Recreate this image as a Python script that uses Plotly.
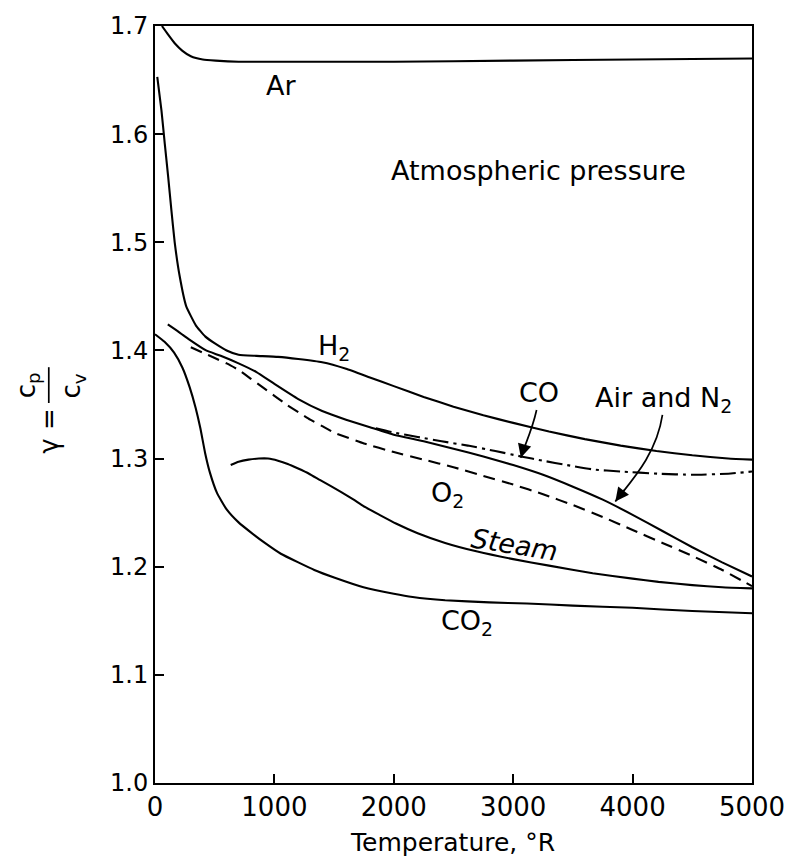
import plotly.graph_objects as go

# ---------------- data ----------------
ar_T = [58, 110, 165, 230, 300, 400, 508, 700, 1000, 2000, 3000, 4000, 5000]
ar_g = [1.700, 1.692, 1.684, 1.677, 1.672, 1.669, 1.668, 1.667, 1.667, 1.667, 1.668, 1.669, 1.670]

h2_T = [19, 54, 82, 110, 137, 165, 206, 261, 343, 420, 508, 600, 700, 850, 1030, 1200, 1400,
        1600, 1800, 2000, 2250, 2500, 2750, 3000, 3300, 3600, 3900, 4200, 4500, 4800, 5000]
h2_g = [1.653, 1.622, 1.591, 1.561, 1.530, 1.500, 1.469, 1.441, 1.423, 1.413, 1.406, 1.400,
        1.396, 1.395, 1.394, 1.392, 1.389, 1.383, 1.375, 1.367, 1.357, 1.348, 1.340, 1.333,
        1.325, 1.318, 1.312, 1.307, 1.303, 1.300, 1.299]

air_T = [107, 200, 288, 428, 550, 700, 850, 1000, 1200, 1400, 1600, 1800, 2000, 2250, 2500,
         2750, 3000, 3250, 3500, 3750, 4000, 4250, 4500, 4750, 5000]
air_g = [1.424, 1.417, 1.410, 1.400, 1.395, 1.388, 1.380, 1.369, 1.355, 1.344, 1.336, 1.329,
         1.322, 1.316, 1.309, 1.302, 1.294, 1.285, 1.274, 1.262, 1.248, 1.233, 1.218, 1.204,
         1.191]

o2_T = [300, 400, 500, 600, 700, 800, 900, 1000, 1100, 1200, 1300, 1400, 1500, 1750, 2000,
        2250, 2500, 2750, 3000, 3250, 3500, 3750, 4000, 4250, 4500, 4750, 5000]
o2_g = [1.403, 1.398, 1.393, 1.388, 1.382, 1.374, 1.366, 1.358, 1.350, 1.343, 1.336, 1.330,
        1.324, 1.314, 1.306, 1.299, 1.292, 1.284, 1.276, 1.267, 1.257, 1.246, 1.234, 1.222,
        1.210, 1.197, 1.182]

co_T = [1850, 2000, 2200, 2400, 2620, 2850, 3064, 3250, 3450, 3666, 3900, 4217, 4500, 4800, 5000]
co_g = [1.328, 1.324, 1.320, 1.316, 1.312, 1.307, 1.302, 1.298, 1.294, 1.290, 1.288, 1.286,
        1.285, 1.286, 1.288]

steam_T = [634, 700, 783, 870, 947, 1030, 1112, 1194, 1290, 1384, 1466, 1560, 1664, 1746, 1880,
           2018, 2200, 2430, 2700, 3000, 3300, 3666, 4000, 4217, 4500, 4750, 5000]
steam_g = [1.294, 1.297, 1.299, 1.300, 1.300, 1.298, 1.295, 1.291, 1.286, 1.280, 1.275, 1.269,
           1.262, 1.256, 1.248, 1.240, 1.231, 1.222, 1.214, 1.207, 1.201, 1.194, 1.189, 1.186,
           1.183, 1.181, 1.180]

co2_T = [0, 80, 160, 230, 290, 340, 380, 420, 460, 520, 600, 700, 800, 920, 1054, 1200, 1334,
         1500, 1746, 2000, 2158, 2430, 2800, 3114, 3500, 4000, 4500, 5000]
co2_g = [1.415, 1.408, 1.398, 1.384, 1.366, 1.347, 1.328, 1.305, 1.287, 1.268, 1.253, 1.241,
         1.232, 1.222, 1.212, 1.204, 1.197, 1.190, 1.181, 1.175, 1.172, 1.169, 1.167, 1.166,
         1.164, 1.162, 1.159, 1.157]

x_ticks = [0, 1000, 2000, 3000, 4000, 5000]
y_ticks = [1.0, 1.1, 1.2, 1.3, 1.4, 1.5, 1.6, 1.7]

# label positions (data coords)
labels = [
    ("Ar", 1054, 1.645, 0),
    ("Atmospheric pressure", 3210, 1.566, 0),
    ("H<sub>2</sub>", 1500, 1.403, 0),
    ("CO", 3212, 1.361, 0),
    ("Air and N<sub>2</sub>", 4259, 1.355, 0),
    ("O<sub>2</sub>", 2446, 1.267, 0),
    ("<i>Steam</i>", 3007, 1.221, 9),
    ("CO<sub>2</sub>", 2611, 1.148, 0),
]

# leader arrows: cubic bezier (tail, c1, c2, tip) in data coords
co_arrow = [(3196, 1.3449), (3155, 1.3247), (3089, 1.3109), (3064, 1.3007)]
air_arrow = [(4250, 1.3403), (4200, 1.3035), (3985, 1.2787), (3855, 1.2603)]

FONT = "DejaVu Sans"
LW = 2.1

fig = go.Figure()

def add_line(T, g, dash="solid"):
    fig.add_trace(go.Scatter(x=T, y=g, mode="lines",
                             line=dict(color="black", width=LW, dash=dash,
                                       shape="spline", smoothing=0.4),
                             hoverinfo="skip", showlegend=False))

add_line(ar_T, ar_g)
add_line(h2_T, h2_g)
add_line(air_T, air_g)
add_line(o2_T, o2_g, dash="12px,7px")
add_line(co_T, co_g, dash="16px,5px,3px,5px")
add_line(steam_T, steam_g)
add_line(co2_T, co2_g)

for txt, x, y, ang in labels:
    fig.add_annotation(x=x, y=y, xref="x", yref="y", text=txt, showarrow=False,
                       textangle=ang, font=dict(family=FONT, size=27, color="black"))

for pts, (axp, ayp) in [(co_arrow, (4, -14)), (air_arrow, (10, -13))]:
    p0, c1, c2, p3 = pts
    path = f"M {p0[0]},{p0[1]} C {c1[0]},{c1[1]} {c2[0]},{c2[1]} {p3[0]},{p3[1]}"
    fig.add_shape(type="path", path=path, xref="x", yref="y",
                  line=dict(color="black", width=1.7))
    fig.add_annotation(x=p3[0], y=p3[1], xref="x", yref="y", text="", showarrow=True,
                       ax=axp, ay=ayp, arrowhead=2, arrowsize=1.6, arrowwidth=1.7,
                       arrowcolor="black")

# pixel helpers
W, H = 797, 860
ML, MR, MT, MB = 155, 35, 22, 77
PW, PH = W - ML - MR, H - MT - MB

def px_x(p):
    return (p - ML) / PW

def px_y(p):
    return (H - MB - p) / PH

# x-axis title
fig.add_annotation(x=px_x(457), y=px_y(843), xref="paper", yref="paper",
                   text="Temperature, °R", showarrow=False, yanchor="middle",
                   font=dict(family=FONT, size=25, color="black"))

# y-axis title: gamma = c_p / c_v (rotated)
fig.add_annotation(x=px_x(25), y=px_y(383), xref="paper", yref="paper",
                   text="c<sub>p</sub>", showarrow=False, textangle=-90,
                   xanchor="center", yanchor="middle",
                   font=dict(family=FONT, size=26, color="black"))
fig.add_annotation(x=px_x(71), y=px_y(384), xref="paper", yref="paper",
                   text="c<sub>v</sub>", showarrow=False, textangle=-90,
                   xanchor="center", yanchor="middle",
                   font=dict(family=FONT, size=26, color="black"))
fig.add_annotation(x=px_x(47), y=px_y(429), xref="paper", yref="paper",
                   text="γ =", showarrow=False, textangle=-90,
                   xanchor="center", yanchor="middle",
                   font=dict(family=FONT, size=26, color="black"))
fig.add_shape(type="line", xref="paper", yref="paper",
              x0=px_x(47), x1=px_x(47), y0=px_y(365), y1=px_y(401),
              line=dict(color="black", width=1.7))

axis_common = dict(showline=True, linecolor="black", linewidth=2, mirror=True,
                   ticks="inside", tickcolor="black", tickwidth=1.5, ticklen=9,
                   showgrid=False, zeroline=False)

fig.update_layout(
    width=W, height=H,
    margin=dict(l=ML, r=MR, t=MT, b=MB),
    paper_bgcolor="white", plot_bgcolor="white",
    showlegend=False,
    xaxis=dict(range=[0, 5000], tickvals=x_ticks,
               tickfont=dict(family=FONT, size=26, color="black"), **axis_common),
    yaxis=dict(range=[1.0, 1.7], tickvals=y_ticks,
               ticktext=[f"{v:.1f}" for v in y_ticks],
               tickfont=dict(family=FONT, size=24, color="black"), **axis_common),
)

fig.write_html("out.html")
